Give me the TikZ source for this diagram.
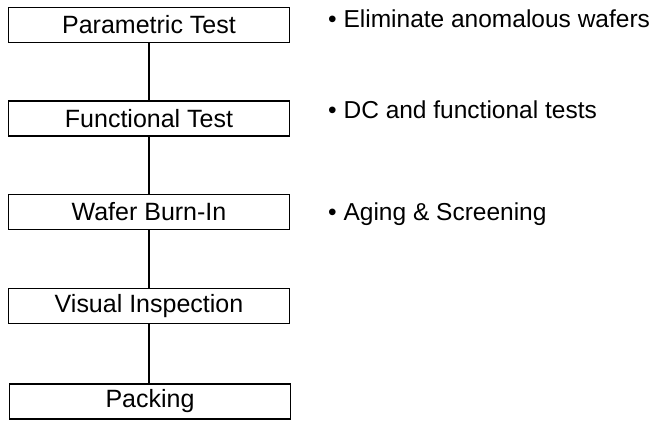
\documentclass[tikz,border=0pt]{standalone}
\usepackage{fontspec}
\setmainfont{Liberation Sans}
\begin{document}
\begin{tikzpicture}[x=1pt,y=-1pt,
  stepbox/.style={draw=black,line width=1.4pt,minimum width=281pt,minimum height=35pt,inner sep=0pt,font=\fontsize{25}{27}\selectfont},
  note/.style={anchor=west,inner sep=0pt,font=\fontsize{24.5}{27}\selectfont},
  link/.style={draw=black,line width=1.4pt}]
\useasboundingbox (0,0) rectangle (654,421);
\node[stepbox] (p1) at (149,25) {Parametric Test};
\node[stepbox] (p2) at (149,118.5) {Functional Test};
\node[stepbox] (p3) at (149,212) {Wafer Burn-In};
\node[stepbox] (p4) at (149,306) {Visual Inspection};
\node[stepbox] (p5) at (150,401.5) {Packing};
\draw[link] (p1) -- (p2);
\draw[link] (p2) -- (p3);
\draw[link] (p3) -- (p4);
\draw[link] (p4.south) -- (p4.south |- p5.north);
\node[note] (n1) at (328,19) {• Eliminate anomalous wafers};
\node[note] (n2) at (328,110) {• DC and functional tests};
\node[note] (n3) at (328,214) {• Aging \& Screening};
\end{tikzpicture}
\end{document}
